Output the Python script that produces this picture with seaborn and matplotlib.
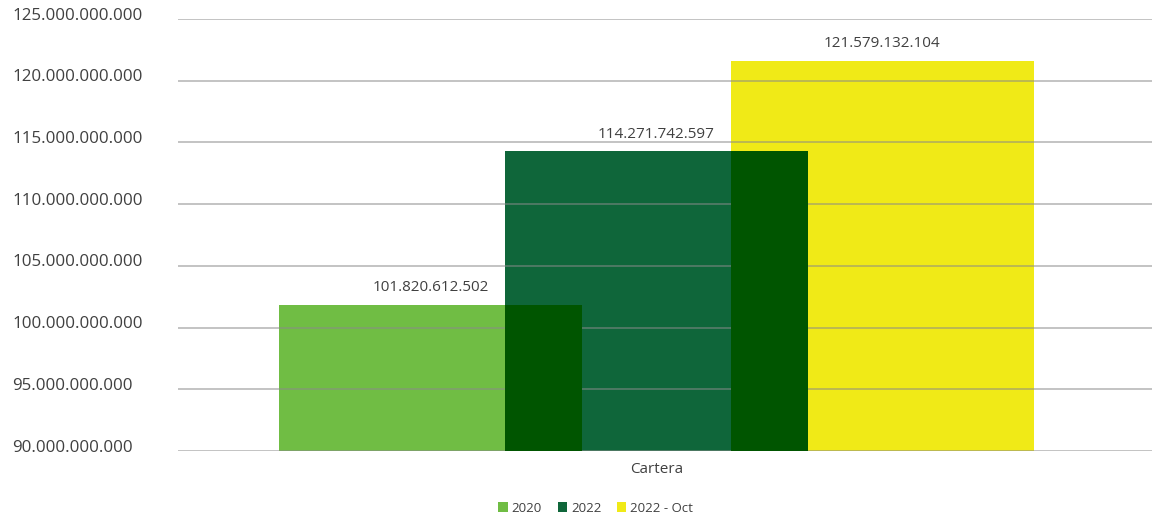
import matplotlib
matplotlib.use("Agg")
import matplotlib.pyplot as plt
import numpy as np
import pandas as pd
import seaborn as sns
from matplotlib.ticker import FuncFormatter, MultipleLocator

series = ["2020", "2022", "2022 - Oct"]
values = [101820612502, 114271742597, 121579132104]
colors = ["#70BD44", "#0F663A", "#F0EA17"]
overlap_color = "#005500"
category = "Cartera"

df = pd.DataFrame({"serie": series, "valor": values})

sns.set_theme(style="white")
plt.rcParams["font.family"] = ["Open Sans", "DejaVu Sans"]
text_color = "#404040"

fig = plt.figure(figsize=(11.52, 5.17), dpi=100)
ax = fig.add_axes([0.1545, 0.1277, 0.8455, 0.8356])

sns.barplot(data=df, x="serie", y="valor", hue="serie", palette=colors,
            width=1.344, dodge=False, saturation=1, legend=True, ax=ax,
            linewidth=0, zorder=2)

# only the real bars (seaborn may add empty ones)
bars = [p for p in ax.patches
        if np.isfinite(p.get_height()) and p.get_height() > 0 and p.get_width() > 0]
bars = sorted(bars, key=lambda p: p.get_x())

# darker band where neighbouring bars overlap
for a, b in zip(bars[:-1], bars[1:]):
    left = b.get_x()
    right = a.get_x() + a.get_width()
    if right > left:
        ax.bar((left + right) / 2, min(a.get_height(), b.get_height()),
               width=right - left, color=overlap_color, linewidth=0, zorder=3)

for p, v in zip(bars, values):
    label = f"{v:,}".replace(",", ".")
    ax.annotate(label, (p.get_x() + p.get_width() / 2, p.get_height()),
                xytext=(0, 7), textcoords="offset points", ha="center", va="bottom",
                fontsize=11, color=text_color)

ax.set_ylim(90e9, 125e9)
ax.set_xlim(-1.1175, 3.193)
ax.yaxis.set_major_locator(MultipleLocator(5e9))
ax.yaxis.set_major_formatter(FuncFormatter(lambda v, _: f"{int(round(v)):,}".replace(",", ".")))
ax.grid(axis="y", color="#8a8a8a", alpha=0.6, linewidth=1.2, zorder=4)
ax.set_axisbelow(False)
for line in ax.get_ygridlines():
    line.set_zorder(4)

for s in ax.spines.values():
    s.set_visible(False)

ax.set_xticks([1])
ax.set_xticklabels([category], fontsize=11, color=text_color)
ax.tick_params(axis="x", length=0, pad=8)
ax.tick_params(axis="y", length=0, labelsize=12.2, labelcolor=text_color, pad=119.5)
for t in ax.get_yticklabels():
    t.set_horizontalalignment("left")
    t.set_verticalalignment("center")
    t.set_transform(t.get_transform() + matplotlib.transforms.ScaledTranslation(0, 2.5 / 72, fig.dpi_scale_trans))
ax.set_xlabel("")
ax.set_ylabel("")

sns.move_legend(ax, "center", bbox_to_anchor=(0.429, -0.132), ncol=3, frameon=False,
                title=None, fontsize=9.5, handlelength=0.7, handleheight=0.7,
                handletextpad=0.3, columnspacing=1.2)
for t in ax.get_legend().get_texts():
    t.set_color(text_color)

fig.savefig("out.png", dpi=100)
